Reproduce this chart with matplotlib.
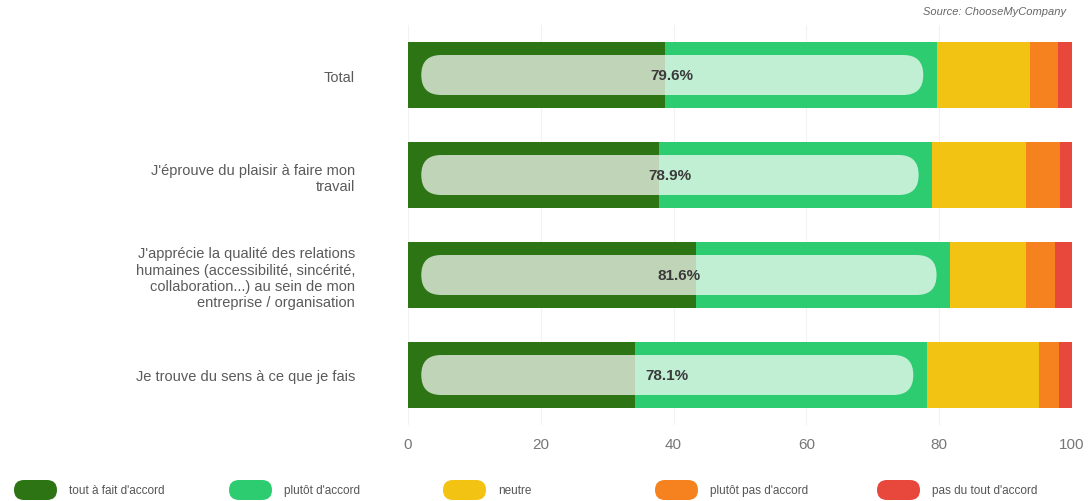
import matplotlib.pyplot as plt
from matplotlib.patches import FancyBboxPatch

plt.rcParams['font.family'] = ['Liberation Sans', 'DejaVu Sans']

categories = [
    "Total",
    "J'éprouve du plaisir à faire mon\ntravail",
    "J'apprécie la qualité des relations\nhumaines (accessibilité, sincérité,\ncollaboration...) au sein de mon\nentreprise / organisation",
    "Je trouve du sens à ce que je fais",
]
series_names = ["tout à fait d'accord", "plutôt d'accord", "neutre",
                "plutôt pas d'accord", "pas du tout d'accord"]
tout_a_fait = [38.7, 37.8, 43.3, 34.2]
plutot = [40.9, 41.1, 38.3, 43.9]
neutre = [14.1, 14.2, 11.5, 16.9]
plutot_pas = [4.2, 5.1, 4.3, 3.1]
pas_du_tout = [2.1, 1.8, 2.6, 1.9]
satisfaits = [79.6, 78.9, 81.6, 78.1]
x_ticks = [0, 20, 40, 60, 80, 100]

colors = ["#2d7514", "#2ecc71", "#f3c313", "#f5821f", "#e8473c"]
series = [tout_a_fait, plutot, neutre, plutot_pas, pas_du_tout]

fig = plt.figure(figsize=(10.88, 5.02), dpi=100)
ax = fig.add_axes([408 / 1088, 1 - 426 / 502, 664 / 1088, 400 / 502])

y = list(range(len(categories)))
left = [0.0] * len(categories)
for vals, col in zip(series, colors):
    ax.barh(y, vals, left=left, height=0.66, color=col, zorder=2)
    left = [a + b for a, b in zip(left, vals)]

# rounded "satisfied" pill over the green part
px_x = 664 / 100.0
px_y = 400 / 4.0
for yi, val in zip(y, satisfaits):
    pill = FancyBboxPatch((2, yi - 0.2), val - 4, 0.4,
                          boxstyle="round,pad=0,rounding_size=3.0",
                          mutation_aspect=px_x / px_y,
                          facecolor="white", edgecolor="none", alpha=0.7, zorder=3)
    ax.add_patch(pill)
    ax.text(val / 2, yi, f"{val:.1f}%", ha="center", va="center",
            fontsize=11, fontweight="bold", color="#3a3a3a", zorder=4)

ax.set_xlim(0, 100)
ax.set_ylim(3.5, -0.5)
ax.set_xticks(x_ticks)
ax.set_yticks(y)
ax.set_yticklabels(categories, fontsize=10.5, color="#5a5a5a", linespacing=1.22)
ax.tick_params(axis="y", length=0, pad=38)
ax.tick_params(axis="x", length=0, pad=9, labelsize=11, labelcolor="#777777")
ax.grid(axis="x", color="#f2f2f2", linewidth=0.8, zorder=0)
ax.set_axisbelow(True)
for s in ax.spines.values():
    s.set_visible(False)

# overlay in pixel coordinates for legend and source
ov = fig.add_axes([0, 0, 1, 1], facecolor="none")
ov.set_xlim(0, 1088)
ov.set_ylim(502, 0)
ov.axis("off")
ov.text(1066, 12, "Source: ChooseMyCompany", ha="right", va="center",
        fontsize=8, style="italic", color="#666666")

leg_x = [14, 229, 443, 655, 877]
for lx, name, col in zip(leg_x, series_names, colors):
    ov.add_patch(FancyBboxPatch((lx, 481), 43, 20,
                                boxstyle="round,pad=0,rounding_size=10",
                                facecolor=col, edgecolor="none"))
    ov.text(lx + 55, 491, name, ha="left", va="center", fontsize=8.5, color="#555555")

fig.savefig("out.png", dpi=100)
